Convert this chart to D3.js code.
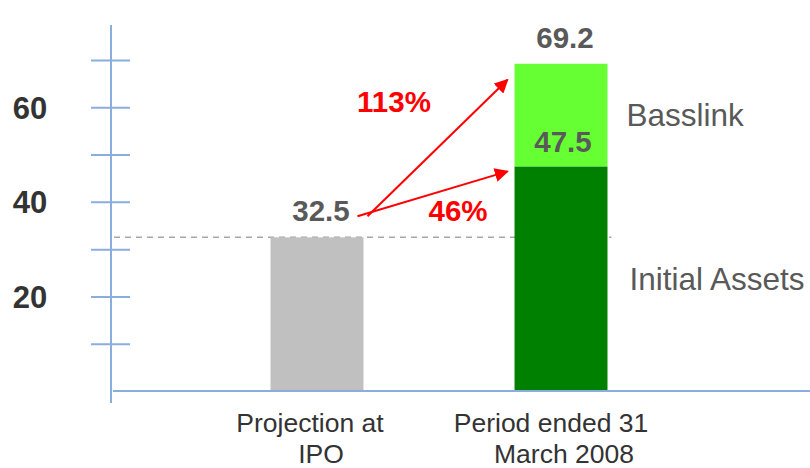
<!DOCTYPE html>
<html>
<head>
<meta charset="utf-8">
<script src="https://cdn.jsdelivr.net/npm/d3@7"></script>
<style>
  body { margin: 0; background: #fff; }
  text { font-family: "Liberation Sans", Arial, sans-serif; }
</style>
</head>
<body>
<script>
// data
var categories = ["Projection at IPO", "Period ended 31 March 2008"];
var catLines = [["Projection at", "IPO"], ["Period ended 31", "March 2008"]];
var baseValues = [32.5, 47.5];       // gray bar / Initial Assets
var basslinkValues = [0, 21.7];      // Basslink on top of initial assets
var totalLabels = ["32.5", "69.2"];
var tickValues = [10, 20, 30, 40, 50, 60, 70];
var tickLabels = [20, 40, 60];
var growthLabels = ["113%", "46%"];
var seriesNames = ["Basslink", "Initial Assets"];

var width = 810, height = 468;
var axisColor = "#8aaedc";

var svg = d3.select("body").append("svg")
  .attr("width", width).attr("height", height);

var defs = svg.append("defs");
defs.append("marker").attr("id", "arr")
  .attr("viewBox", "0 0 10 10").attr("refX", 9).attr("refY", 5)
  .attr("markerWidth", 7).attr("markerHeight", 7)
  .attr("markerUnits", "strokeWidth").attr("orient", "auto")
  .append("path").attr("d", "M0,0 L10,5 L0,10 z").attr("fill", "#ff0000");

var x = d3.scaleBand().domain(categories).range([148.5, 729.5])
  .paddingInner(0.619).paddingOuter(0.5);
var y = d3.scaleLinear().domain([0, 70]).range([391, 60]);

// y axis
var axisX = 111;
var ax = svg.append("g").attr("transform", "translate(" + axisX + ",0)")
  .call(d3.axisLeft(y).tickValues(tickValues).tickSize(20)
    .tickFormat(function (d) { return tickLabels.indexOf(d) >= 0 ? d : ""; }));
ax.select(".domain").remove();
ax.selectAll(".tick line").attr("x1", -20).attr("x2", 19)
  .attr("stroke", axisColor).attr("stroke-width", 2);
ax.selectAll(".tick text").attr("x", -81).attr("dy", "0.35em")
  .attr("text-anchor", "middle")
  .style("font-size", "31px").style("font-weight", "bold")
  .style("font-family", "'Liberation Sans', Arial, sans-serif")
  .attr("fill", "#333");
svg.append("line").attr("x1", axisX).attr("x2", axisX)
  .attr("y1", 25).attr("y2", 403)
  .attr("stroke", axisColor).attr("stroke-width", 2);

// dashed reference line at IPO projection
svg.append("line").attr("x1", axisX + 3).attr("x2", x(categories[1]) + x.bandwidth() + 4)
  .attr("y1", y(baseValues[0])).attr("y2", y(baseValues[0]))
  .attr("stroke", "#a6a6a6").attr("stroke-width", 1.5)
  .attr("stroke-dasharray", "6,5");

// bars
var baseColors = ["#c0c0c0", "#008000"];
svg.selectAll(".base").data(categories).enter().append("rect")
  .attr("class", "base")
  .attr("x", function (d) { return x(d); })
  .attr("width", x.bandwidth())
  .attr("y", function (d, i) { return y(baseValues[i]); })
  .attr("height", function (d, i) { return y(0) - y(baseValues[i]); })
  .attr("fill", function (d, i) { return baseColors[i]; });

svg.selectAll(".bass").data(categories).enter().append("rect")
  .attr("class", "bass")
  .attr("x", function (d) { return x(d); })
  .attr("width", x.bandwidth())
  .attr("y", function (d, i) { return y(baseValues[i] + basslinkValues[i]); })
  .attr("height", function (d, i) { return y(baseValues[i]) - y(baseValues[i] + basslinkValues[i]); })
  .attr("fill", "#66ff33");

// baseline
svg.append("line").attr("x1", axisX + 2).attr("x2", width)
  .attr("y1", y(0)).attr("y2", y(0))
  .attr("stroke", axisColor).attr("stroke-width", 2);

// value labels
var lblStyle = function (sel) {
  sel.attr("text-anchor", "middle").style("font-size", "29.5px")
    .style("font-weight", "bold").attr("fill", "#595959");
};
svg.selectAll(".tot").data(categories).enter().append("text")
  .attr("x", function (d) { return x(d) + x.bandwidth() / 2 + 4; })
  .attr("y", function (d, i) { return y(baseValues[i] + basslinkValues[i]) - 16; })
  .text(function (d, i) { return totalLabels[i]; })
  .call(lblStyle);
svg.append("text")
  .attr("x", x(categories[1]) + x.bandwidth() / 2 + 2)
  .attr("y", y(baseValues[1]) - 14)
  .text(baseValues[1].toFixed(1))
  .call(lblStyle);

// growth arrows
var sx = x(categories[0]) + x.bandwidth() - 2, sy = y(baseValues[0]) - 21;
var tx = x(categories[1]) - 7;
var tops = [y(baseValues[1] + basslinkValues[1]) + 16, y(baseValues[1]) + 5];
var starts = [sx + 6, sx - 4];
tops.forEach(function (ty, i) {
  svg.append("line").attr("x1", starts[i]).attr("y1", sy)
    .attr("x2", tx).attr("y2", ty)
    .attr("stroke", "#ff0000").attr("stroke-width", 2)
    .attr("marker-end", "url(#arr)");
});
svg.append("text").attr("x", 394).attr("y", 112)
  .attr("text-anchor", "middle").style("font-size", "29.5px")
  .style("font-weight", "bold").attr("fill", "#ff0000").text(growthLabels[0]);
svg.append("text").attr("x", 458).attr("y", 221)
  .attr("text-anchor", "middle").style("font-size", "29.5px")
  .style("font-weight", "bold").attr("fill", "#ff0000").text(growthLabels[1]);

// series names beside stacked bar
var rx = x(categories[1]) + x.bandwidth() + 19;
svg.append("text").attr("x", rx).attr("y", (y(baseValues[1]) + y(baseValues[1] + basslinkValues[1])) / 2)
  .attr("dy", "0.35em").style("font-size", "31.5px").attr("fill", "#595959")
  .text(seriesNames[0]);
svg.append("text").attr("x", rx + 3).attr("y", (y(0) + y(baseValues[1])) / 2)
  .attr("dy", "0.35em").style("font-size", "31.5px").attr("fill", "#595959")
  .text(seriesNames[1]);

// category labels (lines slightly offset as in the original)
var lineShift = [[-7, 4], [-10, 3]];
svg.selectAll(".cat").data(categories).enter().append("text")
  .attr("text-anchor", "middle").style("font-size", "26.5px").attr("fill", "#333")
  .attr("transform", function (d) { return "translate(" + (x(d) + x.bandwidth() / 2) + ",432)"; })
  .each(function (d, i) {
    var t = d3.select(this);
    catLines[i].forEach(function (ln, j) {
      t.append("tspan").attr("x", lineShift[i][j]).attr("y", j * 31).text(ln);
    });
  });
</script>
</body>
</html>
